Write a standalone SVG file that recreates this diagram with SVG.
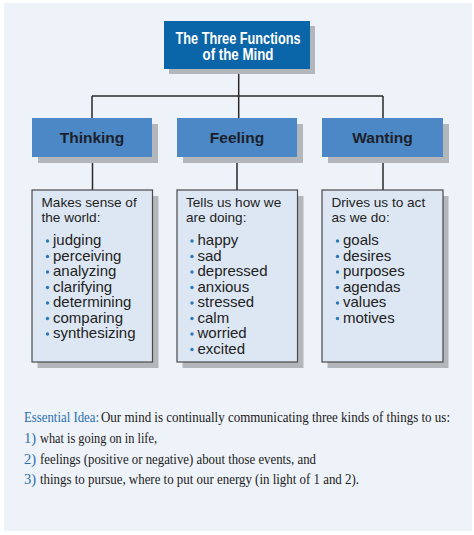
<svg xmlns="http://www.w3.org/2000/svg" width="474" height="535" viewBox="0 0 474 535">
<style>
.sh{fill:#b3b6bb}
.top{fill:#0b65a9}
.mid{fill:#4b88c5}
.box{fill:#dde7f3;stroke:#4a4a4a;stroke-width:1.2}
.ln{stroke:#2a2a2a;stroke-width:1.5;fill:none}
.tt{font-family:"Liberation Sans Narrow","Liberation Sans",Arial,sans-serif;font-weight:bold;font-size:16px;fill:#fff;text-anchor:middle}
.mt{font-family:"Liberation Sans",Arial,sans-serif;font-weight:bold;font-size:15.5px;fill:#1c1f2b;text-anchor:middle}
.hd{font-family:"Liberation Sans",Arial,sans-serif;font-size:13.6px;fill:#222}
.bt{font-family:"Liberation Sans",Arial,sans-serif;font-size:15px;fill:#222}
.bu{fill:#2a78b8}
.ess{font-family:"Liberation Serif","Times New Roman",serif;font-size:14.5px;fill:#1a1a1a}
.blue{fill:#2a6fae}
</style>
<rect x="4" y="3" width="468" height="528" fill="#eef2f9"/>
<g id="connectors">
<path class="ln" d="M238.7 69V96M92 96H383M92 96V118M238.7 96V118M383 96V118M92.5 157V190M237 157V190M383 157V190"/>
</g>
<g id="title">
<rect class="sh" x="169" y="26" width="146" height="48"/>
<rect class="top" x="164" y="21" width="146" height="48"/>
<text class="tt" x="238" y="43.5" textLength="125" lengthAdjust="spacingAndGlyphs">The Three Functions</text>
<text class="tt" x="238" y="59.5" textLength="71" lengthAdjust="spacingAndGlyphs">of the Mind</text>
</g>
<g id="thinking">
<rect class="sh" x="38" y="124" width="120" height="39"/>
<rect class="mid" x="32" y="118" width="120" height="39"/>
<text class="mt" x="92" y="143">Thinking</text>
</g>
<g id="feeling">
<rect class="sh" x="183" y="124" width="120" height="39"/>
<rect class="mid" x="177" y="118" width="120" height="39"/>
<text class="mt" x="237" y="143">Feeling</text>
</g>
<g id="wanting">
<rect class="sh" x="328" y="124" width="121" height="39"/>
<rect class="mid" x="322" y="118" width="121" height="39"/>
<text class="mt" x="382.5" y="143">Wanting</text>
</g>
<g id="thinking-list">
<rect class="sh" x="37.5" y="196" width="121" height="172"/>
<rect class="box" x="32" y="190" width="120.5" height="172"/>
<text class="hd" x="41.5" y="207">Makes sense of</text>
<text class="hd" x="41.5" y="222">the world:</text>
<g class="bu"><circle cx="47.5" cy="241" r="1.7"/><circle cx="47.5" cy="256.5" r="1.7"/><circle cx="47.5" cy="272" r="1.7"/><circle cx="47.5" cy="287.5" r="1.7"/><circle cx="47.5" cy="303" r="1.7"/><circle cx="47.5" cy="318.5" r="1.7"/><circle cx="47.5" cy="334" r="1.7"/></g>
<text class="bt" x="53" y="245">judging</text>
<text class="bt" x="53" y="260.5">perceiving</text>
<text class="bt" x="53" y="276">analyzing</text>
<text class="bt" x="53" y="291.5">clarifying</text>
<text class="bt" x="53" y="307">determining</text>
<text class="bt" x="53" y="322.5">comparing</text>
<text class="bt" x="53" y="338">synthesizing</text>
</g>
<g id="feeling-list">
<rect class="sh" x="182.5" y="196" width="121" height="172"/>
<rect class="box" x="177" y="190" width="120.5" height="172"/>
<text class="hd" x="186" y="207">Tells us how we</text>
<text class="hd" x="186" y="222">are doing:</text>
<g class="bu"><circle cx="192" cy="241" r="1.7"/><circle cx="192" cy="256.5" r="1.7"/><circle cx="192" cy="272" r="1.7"/><circle cx="192" cy="287.5" r="1.7"/><circle cx="192" cy="303" r="1.7"/><circle cx="192" cy="318.5" r="1.7"/><circle cx="192" cy="334" r="1.7"/><circle cx="192" cy="349.5" r="1.7"/></g>
<text class="bt" x="197.5" y="245">happy</text>
<text class="bt" x="197.5" y="260.5">sad</text>
<text class="bt" x="197.5" y="276">depressed</text>
<text class="bt" x="197.5" y="291.5">anxious</text>
<text class="bt" x="197.5" y="307">stressed</text>
<text class="bt" x="197.5" y="322.5">calm</text>
<text class="bt" x="197.5" y="338">worried</text>
<text class="bt" x="197.5" y="353.5">excited</text>
</g>
<g id="wanting-list">
<rect class="sh" x="327.5" y="196" width="121" height="172"/>
<rect class="box" x="322" y="190" width="121" height="172"/>
<text class="hd" x="331.5" y="207">Drives us to act</text>
<text class="hd" x="331.5" y="222">as we do:</text>
<g class="bu"><circle cx="337.5" cy="241" r="1.7"/><circle cx="337.5" cy="256.5" r="1.7"/><circle cx="337.5" cy="272" r="1.7"/><circle cx="337.5" cy="287.5" r="1.7"/><circle cx="337.5" cy="303" r="1.7"/><circle cx="337.5" cy="318.5" r="1.7"/></g>
<text class="bt" x="343" y="245">goals</text>
<text class="bt" x="343" y="260.5">desires</text>
<text class="bt" x="343" y="276">purposes</text>
<text class="bt" x="343" y="291.5">agendas</text>
<text class="bt" x="343" y="307">values</text>
<text class="bt" x="343" y="322.5">motives</text>
</g>
<g id="essential-idea">
<text class="ess blue" x="24" y="422" textLength="75" lengthAdjust="spacingAndGlyphs">Essential Idea:</text>
<text class="ess" x="101" y="422" textLength="349" lengthAdjust="spacingAndGlyphs">Our mind is continually communicating three kinds of things to us:</text>
<text class="ess blue" x="24" y="443">1)</text><text class="ess" x="40" y="443" textLength="117" lengthAdjust="spacingAndGlyphs">what is going on in life,</text>
<text class="ess blue" x="24" y="463.5">2)</text><text class="ess" x="40" y="463.5" textLength="276" lengthAdjust="spacingAndGlyphs">feelings (positive or negative) about those events, and</text>
<text class="ess blue" x="24" y="484">3)</text><text class="ess" x="40" y="484" textLength="319" lengthAdjust="spacingAndGlyphs">things to pursue, where to put our energy (in light of 1 and 2).</text>
</g>
</svg>
